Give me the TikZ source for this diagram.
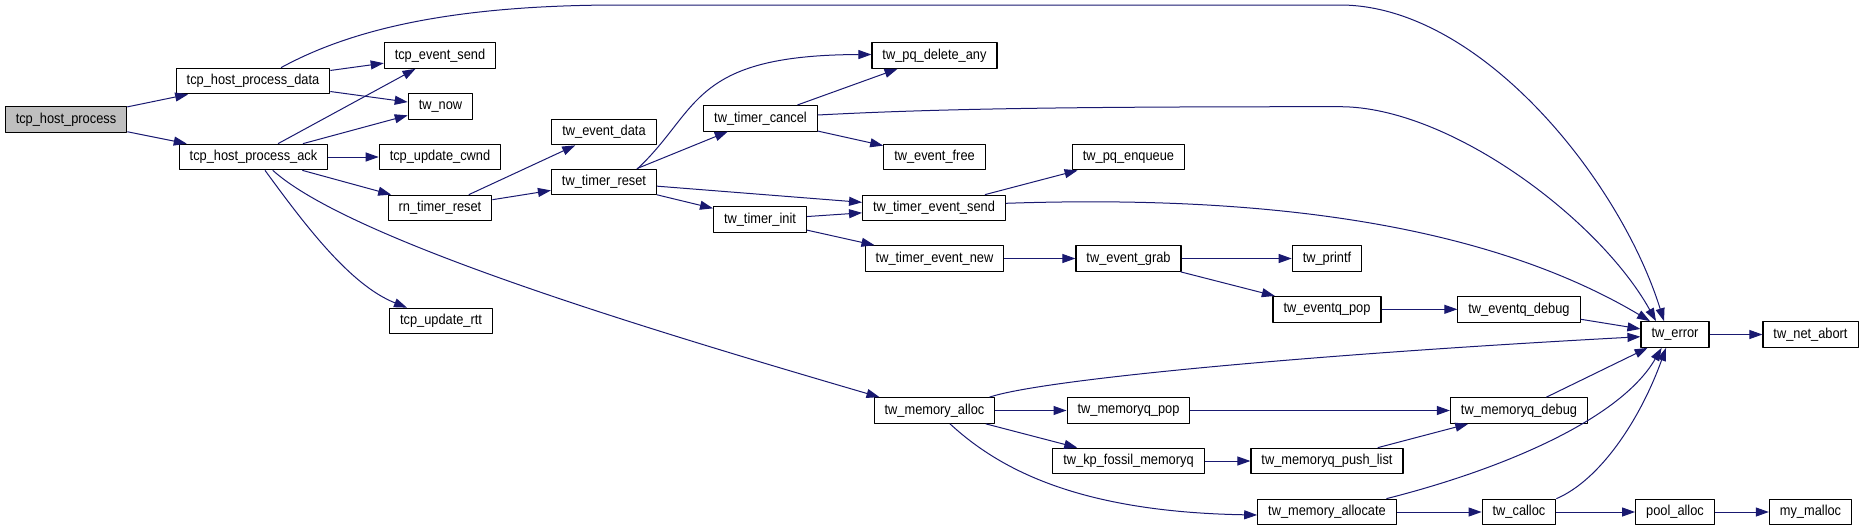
\documentclass[tikz,border=0pt]{standalone}
\usepackage{fontspec}
\setmainfont{Liberation Sans}
\newfontfamily\fnfont{Liberation Sans}[FakeStretch=0.89]
\usetikzlibrary{arrows.meta}
\definecolor{edgeblue}{HTML}{191970}
\definecolor{rootgray}{HTML}{BFBFBF}

\begin{document}
\begin{tikzpicture}[x=1pt, y=-1pt, line join=round,
    fn/.style={draw=black, line width=1.1pt, fill=white, inner xsep=10.5pt, inner ysep=0pt,
      minimum height=25.6pt, font=\fnfont\fontsize{14.4}{16}\selectfont},
    root/.style={fn, fill=rootgray},
    call/.style={draw=edgeblue, line width=1pt, -{Triangle[length=13pt,width=9pt]}}]
				\useasboundingbox (0,0) rectangle (1864,531);

				% Fonctions, colonne par colonne
				\node[root] (hostproc) at (66,119.5) {tcp\_host\_process};
				\node[fn] (procdata) at (253,81) {tcp\_host\_process\_data};
				\node[fn] (procack) at (253.5,157) {tcp\_host\_process\_ack};

				\node[fn] (evsend) at (440,55.5) {tcp\_event\_send};
				\node[fn] (twnow) at (440.5,106.5) {tw\_now};
				\node[fn] (cwnd) at (440,157) {tcp\_update\_cwnd};
				\node[fn] (rnreset) at (440,208) {rn\_timer\_reset};
				\node[fn] (rtt) at (441,321) {tcp\_update\_rtt};

				\node[fn] (evdata) at (604,132) {tw\_event\_data};
				\node[fn] (treset) at (604,182) {tw\_timer\_reset};

				\node[fn] (tcancel) at (760.5,118.3) {tw\_timer\_cancel};
				\node[fn] (tinit) at (760,219.7) {tw\_timer\_init};

				\node[fn] (pqdel) at (934.5,55.5) {tw\_pq\_delete\_any};
				\node[fn] (evfree) at (934.5,157) {tw\_event\_free};
				\node[fn] (tesend) at (934,208) {tw\_timer\_event\_send};
				\node[fn] (tenew) at (934.5,258.5) {tw\_timer\_event\_new};
				\node[fn] (memalloc) at (934.5,410.5) {tw\_memory\_alloc};

				\node[fn] (pqenq) at (1128.5,157) {tw\_pq\_enqueue};
				\node[fn] (evgrab) at (1128.5,258.5) {tw\_event\_grab};
				\node[fn] (mqpop) at (1128.5,410.5) {tw\_memoryq\_pop};
				\node[fn] (fossil) at (1128.5,461) {tw\_kp\_fossil\_memoryq};

				\node[fn] (twprintf) at (1327,258.5) {tw\_printf};
				\node[fn] (eqpop) at (1327,309.3) {tw\_eventq\_pop};
				\node[fn] (pushlist) at (1327,461) {tw\_memoryq\_push\_list};
				\node[fn] (allocate) at (1327,512) {tw\_memory\_allocate};

				\node[fn] (eqdebug) at (1519,309.3) {tw\_eventq\_debug};
				\node[fn] (mqdebug) at (1519,410.5) {tw\_memoryq\_debug};
				\node[fn] (calloc) at (1519,512) {tw\_calloc};

				\node[fn] (twerror) at (1675,334.5) {tw\_error};
				\node[fn] (poolalloc) at (1675,512) {pool\_alloc};

				\node[fn] (netabort) at (1810.5,334.5) {tw\_net\_abort};
				\node[fn] (mymalloc) at (1810.5,512) {my\_malloc};

				% Appels directs
				\draw[call] (hostproc) -- (procdata);
				\draw[call] (hostproc) -- (procack);
				\draw[call] (procdata) -- (evsend);
				\draw[call] (procdata) -- (twnow);
				\draw[call] (procack) -- (evsend);
				\draw[call] (procack) -- (twnow);
				\draw[call] (procack) -- (cwnd);
				\draw[call] (procack) -- (rnreset);
				\draw[call] (rnreset) -- (evdata);
				\draw[call] (rnreset) -- (treset);
				\draw[call] (treset) -- (tcancel);
				\draw[call] (treset) -- (tesend);
				\draw[call] (treset) -- (tinit);
				\draw[call] (tcancel) -- (pqdel);
				\draw[call] (tcancel) -- (evfree);
				\draw[call] (tinit) -- (tesend);
				\draw[call] (tinit) -- (tenew);
				\draw[call] (tesend) -- (pqenq);
				\draw[call] (tenew) -- (evgrab);
				\draw[call] (evgrab) -- (twprintf);
				\draw[call] (evgrab) -- (eqpop);
				\draw[call] (eqpop) -- (eqdebug);
				\draw[call] (eqdebug) -- (twerror);
				\draw[call] (twerror) -- (netabort);
				\draw[call] (memalloc) -- (mqpop);
				\draw[call] (memalloc) -- (fossil);
				\draw[call] (mqpop) -- (mqdebug);
				\draw[call] (fossil) -- (pushlist);
				\draw[call] (pushlist) -- (mqdebug);
				\draw[call] (mqdebug) -- (twerror);
				\draw[call] (allocate) -- (calloc);
				\draw[call] (calloc) -- (poolalloc);
				\draw[call] (poolalloc) -- (mymalloc);

				% Appels courbes
				\draw[call] ([xshift=28pt]procdata.north) .. controls (350,30) and (450,5) .. (620,5)
					-- (1340,5) .. controls (1480,5) and (1620,180) .. ([xshift=-11pt]twerror.north);
				\draw[call] ([yshift=3.3pt]tcancel.east) .. controls (950,108) and (1100,106.7) .. (1340,106.7)
					.. controls (1450,106.7) and (1600,220) .. ([xshift=-19pt]twerror.north);
				\draw[call] ([yshift=4.7pt]tesend.east) .. controls (1250,195) and (1480,220) .. ([xshift=-25pt]twerror.north);
				\draw[call] ([xshift=11.5pt]procack.south) .. controls (305,225) and (350,285) .. ([xshift=-34pt]rtt.north);
				\draw[call] ([xshift=19.3pt]procack.south) .. controls (350,240) and (650,330) .. ([xshift=-55pt]memalloc.north);
				\draw[call] ([xshift=33.6pt]treset.north) .. controls (700,110) and (690,55) .. ([yshift=1pt]pqdel.west);
				\draw[call] ([xshift=55pt]memalloc.north) .. controls (1040,380) and (1300,355) .. ([yshift=-2.2pt]twerror.west);
				\draw[call] ([xshift=15.5pt]memalloc.south) .. controls (1000,470) and (1080,512) .. ([yshift=-3pt]allocate.west);
				\draw[call] ([xshift=59.4pt]allocate.north) .. controls (1500,470) and (1620,420) .. ([xshift=-13.4pt]twerror.south);
				\draw[call] (calloc.north east) .. controls (1600,480) and (1640,420) .. ([xshift=-9pt]twerror.south);
\end{tikzpicture}
\end{document}
